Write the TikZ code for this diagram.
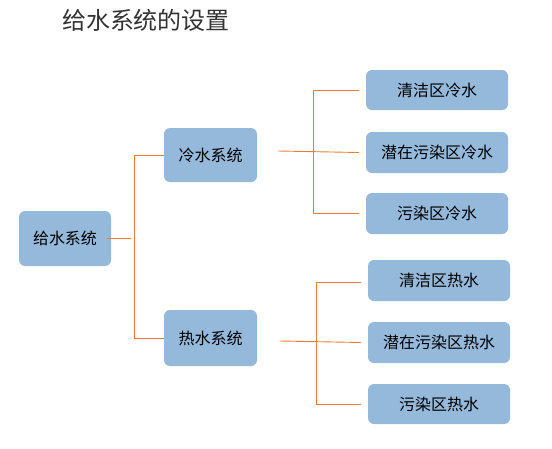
\documentclass[tikz,border=0pt]{standalone}
\usepackage{fontspec}
\setmainfont{Noto Sans CJK SC}
\usetikzlibrary{calc}
\definecolor{boxfill}{HTML}{95B9DB}
\definecolor{wire}{HTML}{ED7D31}
\definecolor{titlegray}{HTML}{333333}
\begin{document}
\begin{tikzpicture}[x=1pt,y=-1pt,
  box/.style={draw=none,fill=boxfill,rounded corners=6pt,inner sep=0pt,font=\fontsize{16}{18}\selectfont,text=black},
  wirel/.style={draw=wire,line width=0.9pt}]
\useasboundingbox (0,0) rectangle (552,448);
\node[text=titlegray,font=\fontsize{24}{28}\selectfont,anchor=center] (title) at (146,20) {给水系统的设置};
\node[box,minimum width=92pt,minimum height=55pt] (root) at (65,238.5) {给水系统};
\node[box,minimum width=93pt,minimum height=54pt] (cold) at (210.5,155) {冷水系统};
\node[box,minimum width=93pt,minimum height=56pt] (hot) at (210.5,338) {热水系统};
\node[box,minimum width=142pt,minimum height=40pt] (c1) at (437,90) {清洁区冷水};
\node[box,minimum width=142pt,minimum height=41pt] (c2) at (437,152.5) {潜在污染区冷水};
\node[box,minimum width=142pt,minimum height=41pt] (c3) at (437,213.5) {污染区冷水};
\node[box,minimum width=142pt,minimum height=41pt] (h1) at (439,280.5) {清洁区热水};
\node[box,minimum width=142pt,minimum height=41pt] (h2) at (439,342.5) {潜在污染区热水};
\node[box,minimum width=142pt,minimum height=40pt] (h3) at (439,404) {污染区热水};
% level 1
\coordinate (rootend) at ($(root.east)+(20,0)$);
\draw[wirel] ($(root.east)+(-4,0)$) -- (rootend);
\draw[wirel] (cold.west) -- ++(-29,0) |- (hot.west);
% cold branch
\draw[wirel] ($(cold.east)+(21,-4)$) -- ($(c2.west)+(-7,0)$);
\draw[wirel] ($(c1.west)+(-7,0)$) -| ($(c1.west)+(-52,0)$) |- ($(c3.west)+(-7,0)$);
% hot branch
\draw[wirel] ($(hot.east)+(23,3)$) -- ($(h2.west)+(-7,0)$);
\draw[wirel] ($(h1.west)+(-7,2)$) -- ($(h1.west)+(-51,2)$) |- ($(h3.west)+(-7,0)$);
\end{tikzpicture}
\end{document}
